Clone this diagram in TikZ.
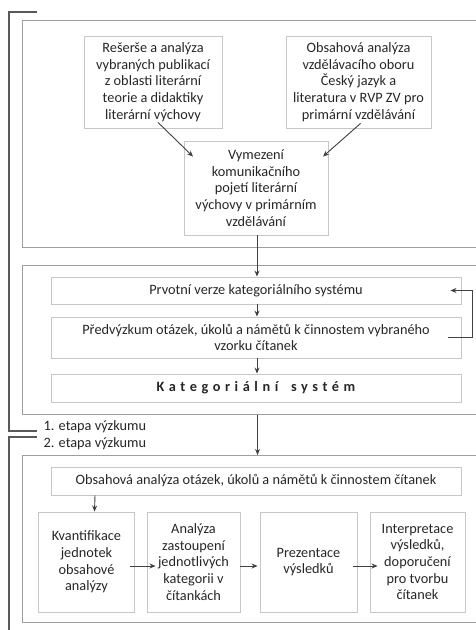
\documentclass[tikz,border=0pt]{standalone}
\usepackage{fontspec}
\setmainfont{Carlito}
\usetikzlibrary{positioning,arrows.meta}

\begin{document}
\begin{tikzpicture}[x=1pt,y=-1pt,
    font=\fontsize{14.3}{16.6}\selectfont,
    box/.style={draw=black!22,line width=0.9pt,align=center,inner sep=2pt,text=black!85},
    frame/.style={draw=black!38,line width=1.1pt,anchor=north west,minimum width=468pt},
    brace/.style={draw=black!65,line width=1.4pt},
    arr/.style={-{Stealth[length=6pt,width=5pt]},draw=black!75,line width=0.9pt},
    lab/.style={anchor=west,text=black!85}]
\useasboundingbox (0,0) rectangle (475,630);

% frames of the three parts
\node[frame,minimum height=227pt] (F_1) at (22,20) {};
\node[frame,minimum height=149pt] (F_2) at (22,265) {};
\node[frame,minimum height=167pt] (F_3) at (22,455) {};

% part one
\node[box,minimum width=138pt,minimum height=92pt] (A_1) at (153,82)
    {Rešerše a analýza\\vybraných publikací\\z oblasti literární\\teorie a didaktiky\\literární výchovy};
\node[box,minimum width=145pt,minimum height=92pt] (B_1) at (358.5,82)
    {Obsahová analýza\\vzdělávacího oboru\\Český jazyk a\\literatura v RVP ZV pro\\primární vzdělávání};
\node[box,minimum width=144pt,minimum height=94pt] (C_1) at (256,188)
    {Vymezení\\komunikačního\\pojetí literární\\výchovy v primárním\\vzdělávání};

\node[box,minimum width=410pt,minimum height=27pt] (P_1) at (256,290.5)
    {Prvotní verze kategoriálního systému};
\node[box,minimum width=410pt,minimum height=41pt] (P_2) at (256,337.5)
    {Předvýzkum otázek, úkolů a námětů k činnostem vybraného\\vzorku čítanek};
\node[box,minimum width=410pt,minimum height=28pt] (P_3) at (256,388)
    {\bfseries\addfontfeatures{LetterSpace=32}Kategoriální\hspace{5pt} systém};

% part two
\node[box,minimum width=410pt,minimum height=28pt] (Q_1) at (256,481)
    {Obsahová analýza otázek, úkolů a námětů k činnostem čítanek};
\node[box,minimum width=96pt,minimum height=100pt] (K_1) at (86.5,562)
    {Kvantifikace\\jednotek\\obsahové\\analýzy};
\node[box,minimum width=93pt,minimum height=100pt] (A_2) at (193.5,562)
    {Analýza\\zastoupení\\jednotlivých\\kategorii v\\čítankách};
\node[box,minimum width=97pt,minimum height=100pt] (R_1) at (308.5,562)
    {Prezentace\\výsledků};
\node[box,minimum width=95pt,minimum height=100pt] (I_1) at (417.5,562)
    {Interpretace\\výsledků,\\doporučení\\pro tvorbu\\čítanek};

% stages
\node[lab] (L_1) at (40,427) {1. etapa výzkumu};
\node[lab] (L_2) at (40,444) {2. etapa výzkumu};
\draw[brace] (37,12) -| (9,431) -- (37,431);
\draw[brace] (37,437) -| (9,640);

% arrows
\draw[arr] ([shift={(5,-6)}]A_1.south) -- ([shift={(-63,16)}]C_1.north);
\draw[arr] ([shift={(2,-5)}]B_1.south) -- ([shift={(67,16)}]C_1.north);
\draw[arr] ([xshift=1pt]C_1.south) -- ([xshift=1pt]P_1.north);
\draw[arr] ([xshift=1pt]P_1.south) -- ([xshift=1pt]P_2.north);
\draw[arr] ([xshift=1pt]P_2.south) -- ([xshift=1pt]P_3.north);
\draw[arr] ([xshift=-13pt]P_2.east) -- ++(24,0) |- ([xshift=-11pt]P_1.east);
\draw[arr,line width=1.6pt] ([xshift=1pt]F_2.south) -- ([xshift=1pt]F_3.north);
\draw[arr] ([xshift=-161pt]Q_1.south) -- ([xshift=8pt]K_1.north);
\draw[arr] ([shift={(-5,4)}]K_1.east) -- ([shift={(9,4)}]A_2.west);
\draw[arr] ([shift={(0,4)}]A_2.east) -- ([shift={(-2,4)}]R_1.west);
\draw[arr] ([shift={(-4,4)}]R_1.east) -- ([shift={(8,4)}]I_1.west);
\end{tikzpicture}
\end{document}
